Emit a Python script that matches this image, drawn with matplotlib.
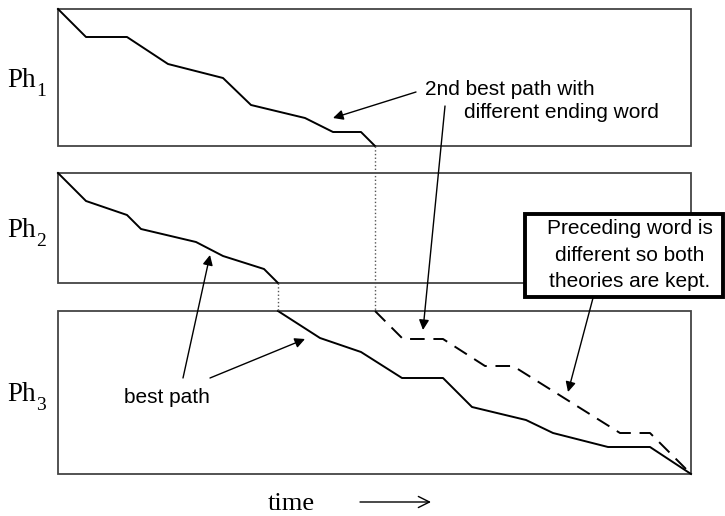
import matplotlib.pyplot as plt
from matplotlib.patches import Rectangle

# phase panels in pixel units of the drawing (y grows downwards)
phase_sub = ["1", "2", "3"]
panel_top = [9, 173, 311]
panel_bottom = [146, 283, 474]
label_base = [87, 237, 401]
panel_left = 58
panel_right = 691

# best path through phone 1, 2, 3 (x = time, y = drawing row)
ph1_x = [58, 86, 127, 168, 223, 251, 305, 333, 361, 375]
ph1_y = [9, 37, 37, 64, 78, 105, 118, 132, 132, 146]
ph2_x = [58, 86, 127, 141, 196, 223, 264, 278]
ph2_y = [173, 201, 215, 229, 242, 256, 269, 283]
ph3_x = [278, 320, 361, 402, 443, 472, 526, 553, 608, 650, 691]
ph3_y = [311, 338, 352, 378, 378, 407, 420, 433, 447, 447, 474]
# 2nd best path in phone 3
alt_x = [375, 403, 443, 485, 513, 620, 650, 691]
alt_y = [311, 339, 339, 366, 366, 433, 433, 474]

callout = ["Preceding word is", "different so both", "theories are kept."]
callout_base = [234, 261, 287]

fig = plt.figure(figsize=(7.25, 5.16), dpi=100)
ax = fig.add_axes([0, 0, 1, 1])
ax.set_xlim(0, 725)
ax.set_ylim(516, 0)
ax.axis("off")

serif = "Liberation Serif"
sans = "Liberation Sans"

for i in range(3):
    ax.add_patch(Rectangle((panel_left, panel_top[i]), panel_right - panel_left,
                           panel_bottom[i] - panel_top[i], fill=False,
                           edgecolor="#444444", lw=1.3))
    ax.text(7, label_base[i], "Ph", fontsize=19.5, family=serif, va="baseline")
    ax.text(36.5, label_base[i] + 9, phase_sub[i], fontsize=14, family=serif,
            va="baseline")

ax.plot(ph1_x, ph1_y, color="black", lw=1.4)
ax.plot(ph2_x, ph2_y, color="black", lw=1.4)
ax.plot(ph3_x, ph3_y, color="black", lw=1.4)
ax.plot(alt_x, alt_y, color="black", lw=1.4, dashes=(7.5, 4.5))

# word transitions
ax.plot([ph1_x[-1], alt_x[0]], [ph1_y[-1], alt_y[0]], color="#555555", lw=1, ls=":")
ax.plot([ph2_x[-1], ph3_x[0]], [ph2_y[-1], ph3_y[0]], color="#555555", lw=1, ls=":")

arrow = dict(arrowstyle="-|>", color="black", lw=1, mutation_scale=15,
             shrinkA=0, shrinkB=0)

ax.text(425, 95, "2nd best path with", fontsize=15, family=sans, va="baseline")
ax.text(464, 118, "different ending word", fontsize=15, family=sans, va="baseline")
ax.annotate("", xy=(333, 118), xytext=(416, 92), arrowprops=arrow)
ax.annotate("", xy=(423, 330), xytext=(445, 106), arrowprops=arrow)

ax.text(124, 403, "best path", fontsize=15, family=sans, ha="left", va="baseline")
ax.annotate("", xy=(210, 255), xytext=(183, 378), arrowprops=arrow)
ax.annotate("", xy=(305, 339), xytext=(210, 378), arrowprops=arrow)

ax.add_patch(Rectangle((525, 214), 198, 83, fc="white", ec="black", lw=2.8,
                       zorder=3))
for line, yb in zip(callout, callout_base):
    ax.text(630, yb, line, fontsize=15, family=sans, ha="center", va="baseline",
            zorder=4)
ax.annotate("", xy=(568, 392), xytext=(593, 298), arrowprops=arrow)

ax.text(268, 510, "time", fontsize=19, family=serif, ha="left", va="baseline")
ax.annotate("", xy=(431, 502), xytext=(360, 502),
            arrowprops=dict(arrowstyle="->", color="black", lw=1,
                            mutation_scale=20, shrinkA=0, shrinkB=0))

fig.savefig("out.png", dpi=100)
